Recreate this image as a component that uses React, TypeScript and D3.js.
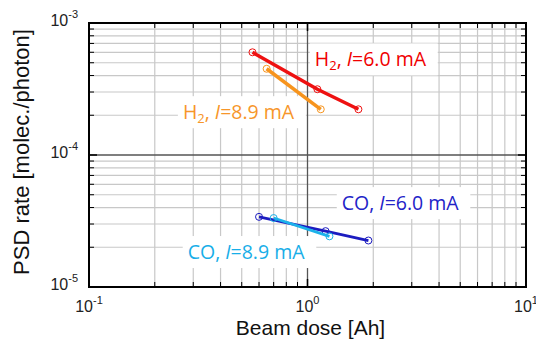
import React, { useEffect, useRef } from 'react';
import * as d3 from 'd3';

// Beam dose [Ah] and PSD rate [molec./photon]
const h2At60Dose = [0.56, 1.11, 1.71];
const h2At60Rate = [6.0e-4, 3.15e-4, 2.22e-4];
const h2At89Dose = [0.65, 1.15];
const h2At89Rate = [4.5e-4, 2.22e-4];
const coAt60Dose = [0.6, 1.21, 1.9];
const coAt60Rate = [3.4e-5, 2.65e-5, 2.25e-5];
const coAt89Dose = [0.7, 1.26];
const coAt89Rate = [3.33e-5, 2.42e-5];

const xTickExp = [-1, 0, 1];
const yTickExp = [-5, -4, -3];

// label text: gas, current; anchored in data space (dose, rate)
const labelGas = ['H2', 'H2', 'CO', 'CO'];
const labelCurrent = ['6.0', '8.9', '6.0', '8.9'];
const labelDose = [1.08, 0.269, 1.435, 0.283];
const labelRate = [5.3e-4, 2.11e-4, 4.32e-5, 1.84e-5];

const App = () => {
  const ref = useRef<SVGSVGElement>(null);

  useEffect(() => {
    document.body.style.margin = '0';
    const width = 536;
    const height = 341;
    const margin = { top: 23, right: 10, bottom: 54, left: 89 };
    const innerWidth = width - margin.left - margin.right;
    const innerHeight = height - margin.top - margin.bottom;

    const svg = d3.select(ref.current);
    svg.selectAll('*').remove();

    const x = d3.scaleLog().domain([0.1, 10]).range([0, innerWidth]);
    const y = d3.scaleLog().domain([1e-5, 1e-3]).range([innerHeight, 0]);

    const g = svg.append('g').attr('transform', `translate(${margin.left},${margin.top})`);

    // grid: minor and major lines
    const xMinor: number[] = [];
    [0.1, 1].forEach(b => d3.range(2, 10).forEach(k => xMinor.push(b * k)));
    const yMinor: number[] = [];
    [1e-5, 1e-4].forEach(b => d3.range(2, 10).forEach(k => yMinor.push(b * k)));

    g.selectAll('.xgrid')
      .data(xMinor)
      .enter()
      .append('line')
      .attr('x1', d => x(d)).attr('x2', d => x(d))
      .attr('y1', 0).attr('y2', innerHeight)
      .attr('stroke', '#c8c8c8').attr('stroke-width', 1.2);
    g.selectAll('.ygrid')
      .data(yMinor)
      .enter()
      .append('line')
      .attr('y1', d => y(d)).attr('y2', d => y(d))
      .attr('x1', 0).attr('x2', innerWidth)
      .attr('stroke', '#c8c8c8').attr('stroke-width', 1.2);
    g.append('line')
      .attr('x1', x(1)).attr('x2', x(1)).attr('y1', 0).attr('y2', innerHeight)
      .attr('stroke', '#555').attr('stroke-width', 1.3);
    g.append('line')
      .attr('y1', y(1e-4)).attr('y2', y(1e-4)).attr('x1', 0).attr('x2', innerWidth)
      .attr('stroke', '#555').attr('stroke-width', 1.3);

    // inward ticks on all sides
    const tickLen = 5;
    xMinor.forEach(v => {
      g.append('line').attr('x1', x(v)).attr('x2', x(v)).attr('y1', 0).attr('y2', tickLen).attr('stroke', '#000');
      g.append('line').attr('x1', x(v)).attr('x2', x(v)).attr('y1', innerHeight).attr('y2', innerHeight - tickLen).attr('stroke', '#000');
    });
    yMinor.forEach(v => {
      g.append('line').attr('y1', y(v)).attr('y2', y(v)).attr('x1', 0).attr('x2', tickLen).attr('stroke', '#000');
      g.append('line').attr('y1', y(v)).attr('y2', y(v)).attr('x1', innerWidth).attr('x2', innerWidth - tickLen).attr('stroke', '#000');
    });
    g.append('line').attr('y1', y(1e-4)).attr('y2', y(1e-4)).attr('x1', 0).attr('x2', 8).attr('stroke', '#000').attr('stroke-width', 1.5);
    g.append('line').attr('y1', y(1e-4)).attr('y2', y(1e-4)).attr('x1', innerWidth).attr('x2', innerWidth - 8).attr('stroke', '#000').attr('stroke-width', 1.5);
    g.append('line').attr('x1', x(1)).attr('x2', x(1)).attr('y1', 0).attr('y2', 8).attr('stroke', '#000').attr('stroke-width', 1.5);
    g.append('line').attr('x1', x(1)).attr('x2', x(1)).attr('y1', innerHeight).attr('y2', innerHeight - 8).attr('stroke', '#000').attr('stroke-width', 1.5);

    // labels with white boxes
    const colors = ['#f00000', '#f7962a', '#2323c8', '#18aee8'];
    const lineColors = ['#ee1111', '#f7941d', '#1c1cc0', '#1cb2ea'];
    const labelFont = "'Open Sans', 'Liberation Sans', sans-serif";
    labelGas.forEach((gas, i) => {
      const lg = g.append('g');
      const box = lg.append('rect').attr('fill', '#fff');
      const t = lg.append('text')
        .attr('x', x(labelDose[i]))
        .attr('y', y(labelRate[i]))
        .attr('dy', '0.35em')
        .attr('font-family', labelFont)
        .attr('font-size', '19.5px')
        .attr('fill', colors[i]);
      if (gas === 'H2') {
        t.append('tspan').text('H');
        t.append('tspan').attr('font-size', '13px').attr('dy', 4).text('2');
        t.append('tspan').attr('dy', -4).text(', ');
      } else {
        t.append('tspan').text('CO, ');
      }
      t.append('tspan').attr('font-style', 'italic').text('I');
      t.append('tspan').text(`=${labelCurrent[i]} mA`);
      const bb = (t.node() as SVGTextElement).getBBox();
      const cy = y(labelRate[i]);
      box.attr('x', bb.x - 5).attr('y', cy - 16)
        .attr('width', bb.width + 16).attr('height', 32);
    });

    // data series
    const series = [
      { dose: h2At60Dose, rate: h2At60Rate, w: 3.5 },
      { dose: h2At89Dose, rate: h2At89Rate, w: 3.5 },
      { dose: coAt60Dose, rate: coAt60Rate, w: 2.8 },
      { dose: coAt89Dose, rate: coAt89Rate, w: 2.8 }
    ];
    const line = d3.line<[number, number]>().x(d => x(d[0])).y(d => y(d[1]));
    series.forEach((s, i) => {
      const pts = s.dose.map((d, k) => [d, s.rate[k]] as [number, number]);
      g.append('path')
        .attr('d', line(pts))
        .attr('fill', 'none')
        .attr('stroke', lineColors[i])
        .attr('stroke-width', s.w);
      g.selectAll(`.pt${i}`)
        .data(pts)
        .enter()
        .append('circle')
        .attr('cx', d => x(d[0]))
        .attr('cy', d => y(d[1]))
        .attr('r', 3.5)
        .attr('fill', 'none')
        .attr('stroke', lineColors[i])
        .attr('stroke-width', 1);
    });

    // frame
    g.append('rect')
      .attr('width', innerWidth).attr('height', innerHeight)
      .attr('fill', 'none').attr('stroke', '#000').attr('stroke-width', 2);

    // tick labels
    const axisFont = "'Liberation Sans', Arial, sans-serif";
    xTickExp.forEach(e => {
      const t = g.append('text')
        .attr('x', x(Math.pow(10, e)))
        .attr('y', innerHeight + 25)
        .attr('text-anchor', 'middle')
        .attr('font-family', axisFont)
        .attr('font-size', '16px')
        .attr('fill', '#222');
      t.append('tspan').text('10');
      t.append('tspan').attr('font-size', '11px').attr('dy', -8).text(String(e));
    });
    yTickExp.forEach(e => {
      const t = g.append('text')
        .attr('x', -11)
        .attr('y', y(Math.pow(10, e)) + 3)
        .attr('text-anchor', 'end')
        .attr('font-family', axisFont)
        .attr('font-size', '16px')
        .attr('fill', '#222');
      t.append('tspan').text('10');
      t.append('tspan').attr('font-size', '11px').attr('dy', -8).text(String(e));
    });

    // axis titles
    g.append('text')
      .attr('x', innerWidth / 2 + 3)
      .attr('y', innerHeight + 48)
      .attr('text-anchor', 'middle')
      .attr('font-family', axisFont)
      .attr('font-size', '21px')
      .attr('fill', '#111')
      .text('Beam dose [Ah]');
    g.append('text')
      .attr('transform', `translate(${-60},${innerHeight / 2 - 3}) rotate(-90)`)
      .attr('text-anchor', 'middle')
      .attr('font-family', axisFont)
      .attr('font-size', '22px')
      .attr('fill', '#111')
      .text('PSD rate [molec./photon]');
  }, []);

  return <svg ref={ref} width={536} height={341} style={{ display: 'block' }} />;
};

export default App;
